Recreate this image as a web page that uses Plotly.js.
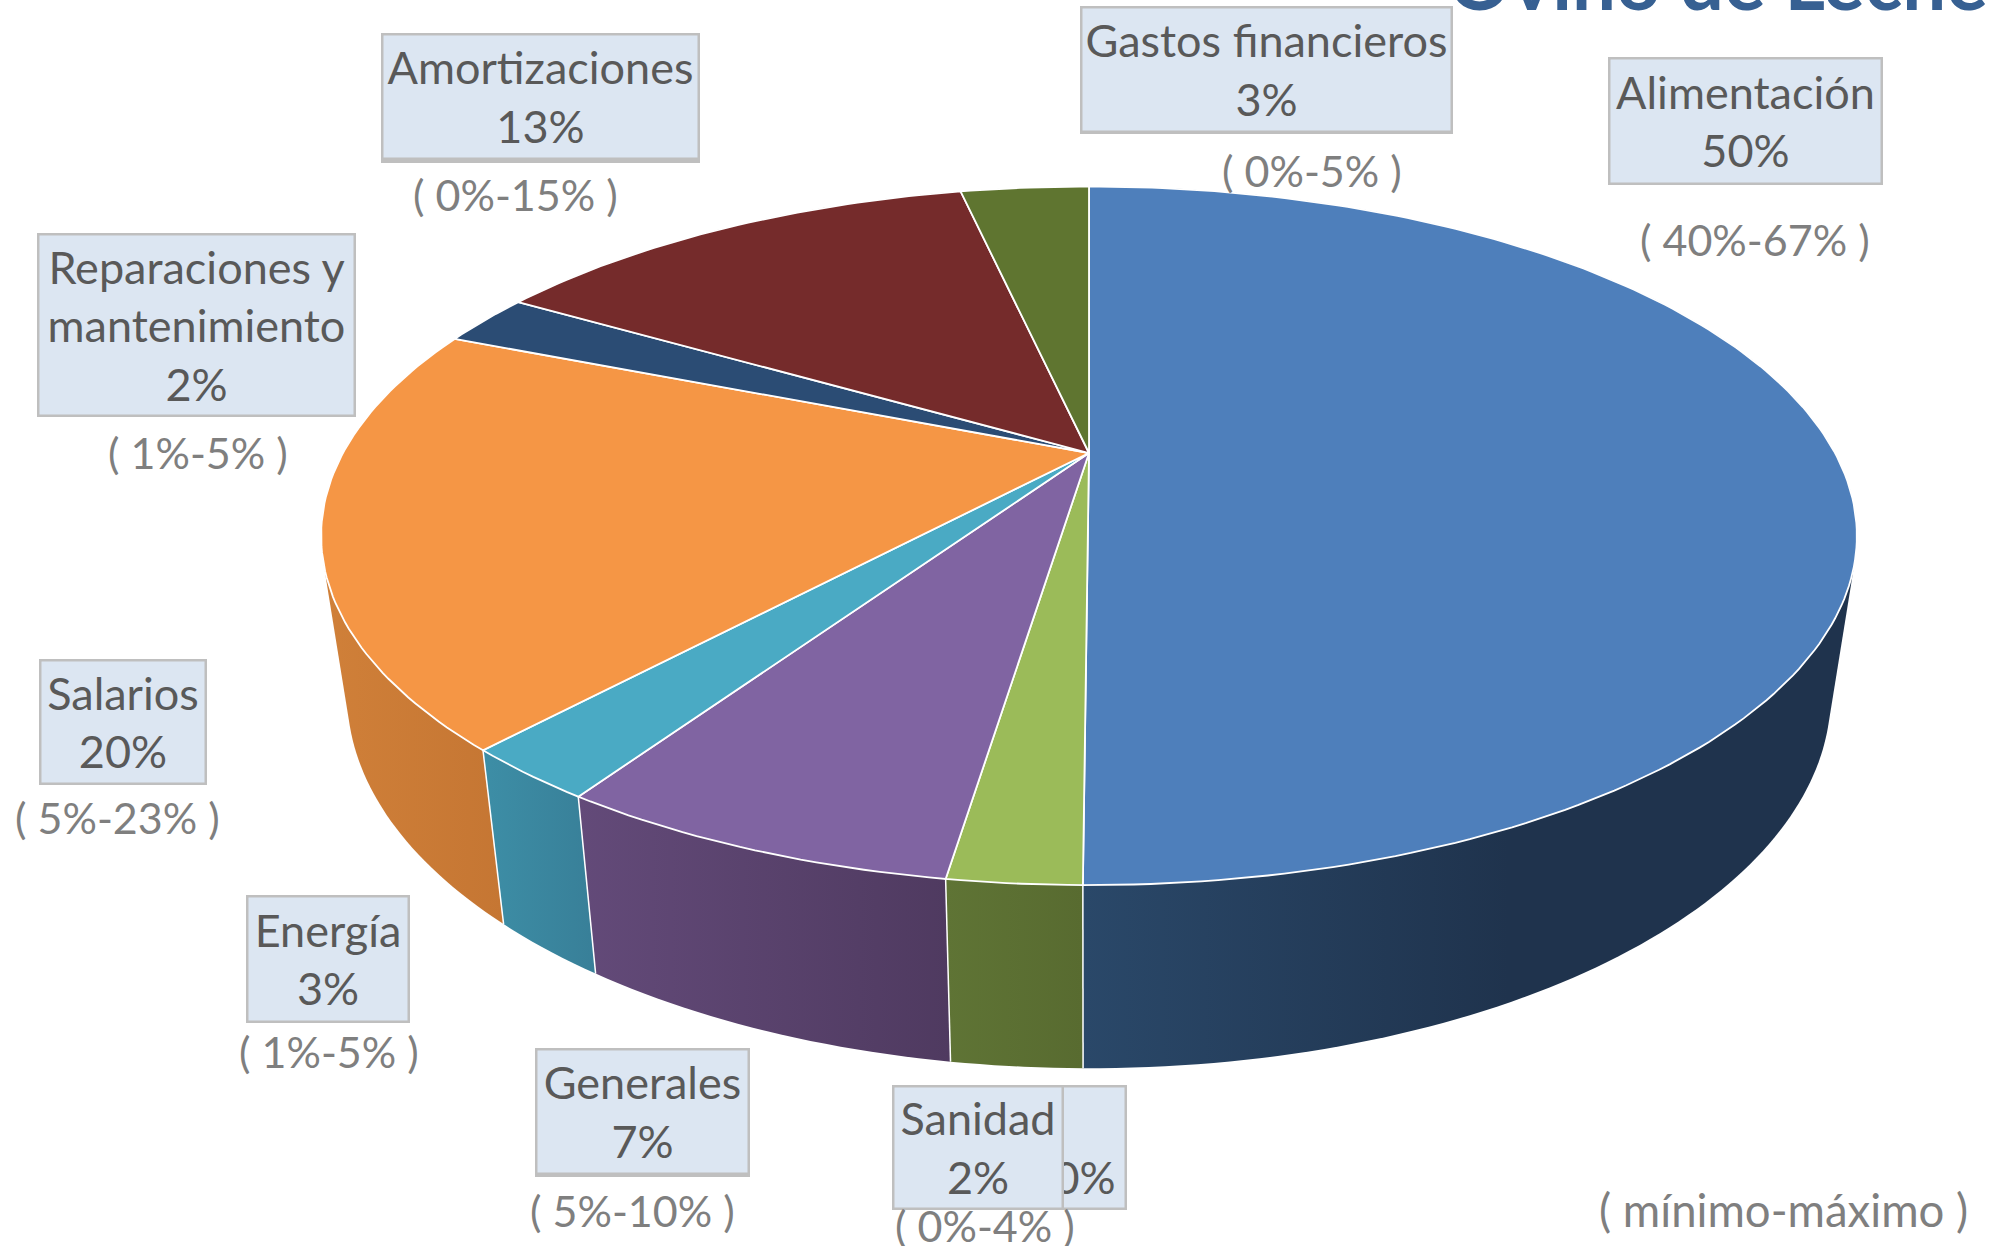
<!DOCTYPE html>
<html>
<head>
<meta charset="utf-8">
<script src="https://cdn.plot.ly/plotly-3.0.1.min.js"></script>
<style>html,body{margin:0;padding:0;background:#fff;overflow:hidden}#chart{width:1990px;height:1246px}</style>
</head>
<body>
<div id="chart"></div>
<script>
// ---- data (clockwise from 12 o'clock) ----
const categories = ["Alimentación","Sanidad","Generales","Energía","Salarios","Reparaciones y<br>mantenimiento","Amortizaciones","Gastos financieros"];
const sliceValues = [50.1,2.25,6.9,2.42,19.48,2.43,13.02,3.4];
const shownPercents = ["50%","2%","7%","3%","20%","2%","13%","3%"];
const rangeTexts = ["( 40%-67% )","( 0%-4% )","( 5%-10% )","( 1%-5% )","( 5%-23% )","( 1%-5% )","( 0%-15% )","( 0%-5% )"];
const chartTitle = "Ovino de Leche";
const rangeNote = "( mínimo-máximo )";
const hiddenLabel = "0%";

// ---- styling and layout ----
const topColors = ["#4e7fbb","#9bbb59","#8064a2","#4aaac4","#f59645","#2b4c74","#752b2b","#5f7530"];
const wallColors = [["#2a4869","#1f334d"],["#5f7435","#586b30"],["#634a79","#4f3a60"],["#3d8ea6","#387f98"],["#d08039","#c57633"],["#1f334d","#1f334d"],["#55201f","#55201f"],["#465823","#465823"]];
const boxX = [[1608,1882],[892,1063],[535,749],[246,409],[39,206],[37,355],[381,699],[1080,1452]];
const boxY = [[57,184],[1085,1209],[1048,1174],[895,1022],[659,784],[233,416],[33,159],[6,132]];
const boxShadow = [0,0,3,0,0,0,4,2];
const rangeX = [1755,985,632,329,117,198,515,1312];
const rangeY = [239,1225,1210,1051,817,452,194,170];
const FONT = "Lato, 'Open Sans', sans-serif";
const LABEL_SIZE = 45, RANGE_SIZE = 43, NOTE_SIZE = 45.5;

// perspective disc: apex, half-axes, foreshortening, and the lower rim of the wall
const apexX = 1089, apexY = 453, A = 746, B = 329.7, K = 0.237;
const rimMidY = 536, wallScaleX = 0.966, wallScaleY = 1.069, wallMidY = 695;

function topPoint(frac){
  const t = frac*2*Math.PI, sx = Math.sin(t), cy = Math.cos(t), d = 1+K*cy;
  return [apexX + A*sx/d, apexY - B*cy/d];
}
function lowPoint(frac){
  const p = topPoint(frac);
  return [apexX + (p[0]-apexX)*wallScaleX, wallMidY + (p[1]-rimMidY)*wallScaleY];
}
function arc(fn, f0, f1){
  const n = Math.max(4, Math.ceil((f1-f0)*360)), pts = [];
  for(let i=0;i<=n;i++) pts.push(fn(f0+(f1-f0)*i/n));
  return pts;
}
// outline of a slice's wall: hull of both rim arcs, so the silhouette runs straight between the rims
function hull(points){
  const p = points.slice().sort((a,b)=>a[0]-b[0]||a[1]-b[1]);
  const cross = (o,a,b)=>(a[0]-o[0])*(b[1]-o[1])-(a[1]-o[1])*(b[0]-o[0]);
  const half = list=>{
    const h = [];
    list.forEach(q=>{
      while(h.length>=2 && cross(h[h.length-2],h[h.length-1],q)<=0) h.pop();
      h.push(q);
    });
    h.pop();
    return h;
  };
  const out = half(p).concat(half(p.slice().reverse()));
  out.push(out[0]);
  return out;
}

const total = sliceValues.reduce((a,b)=>a+b,0);
let cum = 0;
const wallTraces = [], topTraces = [], ex = [], ey = [];
categories.forEach((name,i)=>{
  const f0 = cum/total; cum += sliceValues[i]; const f1 = cum/total;
  const up = arc(topPoint,f0,f1), low = arc(lowPoint,f0,f1);
  const wall = hull(up.concat(low));
  wallTraces.unshift({type:"scatter",mode:"lines",name:name.replace("<br>"," "),
    x:wall.map(p=>p[0]),y:wall.map(p=>p[1]),fill:"toself",line:{width:0,color:wallColors[i][0],simplify:false},
    fillgradient:{type:"horizontal",colorscale:i===0?[[0,wallColors[i][0]],[0.55,wallColors[i][1]],[1,wallColors[i][1]]]:[[0,wallColors[i][0]],[1,wallColors[i][1]]]},
    hoverinfo:"skip",showlegend:false});
  const a = topPoint(f0), b = lowPoint(f0);
  ex.push(a[0],b[0],null); ey.push(a[1],b[1],null);
  const top = [[apexX,apexY]].concat(up); top.push([apexX,apexY]);
  topTraces.push({type:"scatter",mode:"lines",name:name.replace("<br>"," "),
    x:top.map(p=>p[0]),y:top.map(p=>p[1]),fill:"toself",fillcolor:topColors[i],
    line:{color:"#ffffff",width:1.8},hoverinfo:"skip",showlegend:false});
});
const edgeTrace = {type:"scatter",mode:"lines",x:ex,y:ey,line:{color:"#ffffff",width:1.5},hoverinfo:"skip",showlegend:false};

function box(cx,cy,w,h,text){
  return {xref:"x",yref:"y",x:cx,y:cy,xanchor:"center",yanchor:"middle",showarrow:false,align:"center",valign:"middle",
    text:text,width:w-4,height:h-4,borderpad:0,borderwidth:2.5,bordercolor:"#bfbfbf",bgcolor:"#dce6f2",
    font:{family:FONT,size:LABEL_SIZE,color:"#595959"}};
}
function plain(cx,cy,text,size){
  return {xref:"x",yref:"y",x:cx,y:cy,xanchor:"center",yanchor:"middle",showarrow:false,text:text,
    font:{family:FONT,size:size,color:"#7f7f7f"}};
}
const annotations = [];
// the label that the Sanidad box covers
annotations.push(box(1084,1147,84,124,"&nbsp;<br>"+hiddenLabel));
const shapes = [];
categories.forEach((name,i)=>{
  annotations.push(box((boxX[i][0]+boxX[i][1])/2,(boxY[i][0]+boxY[i][1])/2,boxX[i][1]-boxX[i][0],boxY[i][1]-boxY[i][0],name+"<br>"+shownPercents[i]));
  annotations.push(plain(rangeX[i],rangeY[i],rangeTexts[i],RANGE_SIZE));
  if(boxShadow[i]) shapes.push({type:"rect",xref:"x",yref:"y",x0:boxX[i][0],x1:boxX[i][1]+1,y0:boxY[i][1]-3,y1:boxY[i][1]+boxShadow[i],fillcolor:"#bfbfbf",line:{width:0},layer:"above"});
});
annotations.push(plain(1783,1209,rangeNote,NOTE_SIZE));
annotations.push({xref:"paper",yref:"paper",x:1446/1990,y:1,xanchor:"left",yanchor:"bottom",yshift:-29,showarrow:false,text:"<b>"+chartTitle+"</b>",
  font:{family:FONT,size:78,color:"#376092"}});

Plotly.newPlot("chart",wallTraces.concat([edgeTrace],topTraces),{
  width:1990,height:1246,margin:{l:0,r:0,t:0,b:0},paper_bgcolor:"#ffffff",plot_bgcolor:"#ffffff",showlegend:false,
  xaxis:{range:[0,1990],visible:false,fixedrange:true},
  yaxis:{range:[1246,0],visible:false,fixedrange:true},
  annotations:annotations,shapes:shapes
},{displayModeBar:false,responsive:false});
</script>
</body>
</html>
